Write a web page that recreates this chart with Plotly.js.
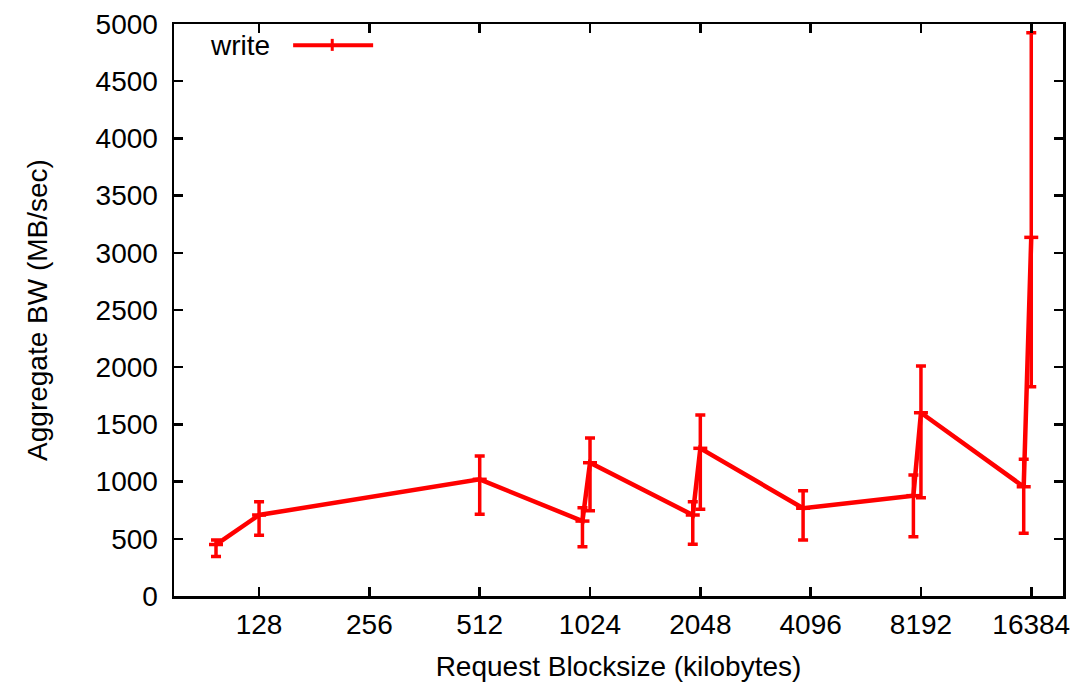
<!DOCTYPE html>
<html>
<head>
<meta charset="utf-8">
<script src="https://cdn.plot.ly/plotly-3.0.1.min.js"></script>
<style>html,body{margin:0;padding:0;background:#fff;}#chart{width:1074px;height:683px;}</style>
</head>
<body>
<div id="chart"></div>
<script>
// Request blocksize (kilobytes)
var blocksize = [97.65625, 128, 512, 976.5625, 1024, 1953.125, 2048, 3906.25, 7812.5, 8192, 15625, 16384];
// Aggregate write bandwidth (MB/sec)
var writeBW = [450, 708, 1020, 655, 1165, 708, 1291, 767, 877, 1602, 955, 3135];
var writeHigh = [490, 824, 1224, 772, 1381, 824, 1582, 920, 1058, 2010, 1195, 4924];
var writeLow = [345, 530, 714, 431, 746, 452, 758, 490, 518, 859, 548, 1830];
var xTicks = [128, 256, 512, 1024, 2048, 4096, 8192, 16384];
var xTickLabels = ["128", "256", "512", "1024", "2048", "4096", "8192", "16384"];
var yTicks = [0, 500, 1000, 1500, 2000, 2500, 3000, 3500, 4000, 4500, 5000];

var plus = writeHigh.map(function (h, i) { return h - writeBW[i]; });
var minus = writeBW.map(function (v, i) { return v - writeLow[i]; });

var trace = {
  x: blocksize,
  y: writeBW,
  type: 'scatter',
  mode: 'lines+markers',
  name: 'write',
  line: {color: '#ff0000', width: 4.5},
  marker: {symbol: 'line-ew', size: 10, color: '#ff0000', line: {color: '#ff0000', width: 3.5}},
  error_y: {type: 'data', symmetric: false, array: plus, arrayminus: minus,
            color: '#ff0000', thickness: 3.5, width: 5},
  showlegend: false
};

var font = {family: 'Liberation Sans, Arial, sans-serif', size: 28, color: '#000'};

var layout = {
  width: 1074, height: 683,
  margin: {l: 174, r: 11, t: 24, b: 87},
  paper_bgcolor: '#fff', plot_bgcolor: '#fff',
  font: font,
  showlegend: false,
  xaxis: {
    type: 'log',
    range: [Math.log10(75), Math.log10(20000)],
    tickvals: xTicks, ticktext: xTickLabels,
    ticks: 'inside', ticklen: 9, tickwidth: 2.5, tickcolor: '#000',
    showline: true, linewidth: 2.5, linecolor: '#000', mirror: 'ticks',
    showgrid: false, zeroline: false,
    ticklabelstandoff: 2,
    tickfont: font,
    title: {text: 'Request Blocksize (kilobytes)', font: font, standoff: 18}
  },
  yaxis: {
    range: [0, 5000],
    tickvals: yTicks,
    ticks: 'inside', ticklen: 9, tickwidth: 2.5, tickcolor: '#000',
    showline: true, linewidth: 2.5, linecolor: '#000', mirror: 'ticks',
    showgrid: false, zeroline: false,
    ticklabelstandoff: 8,
    tickfont: font,
    title: {text: 'Aggregate BW (MB/sec)', font: font, standoff: 40}
  },
  annotations: [{
    xref: 'paper', yref: 'paper', x: 0.110, y: 0.963,
    xanchor: 'right', yanchor: 'middle', showarrow: false,
    text: 'write', font: font
  }],
  shapes: [
    {type: 'line', xref: 'paper', yref: 'paper', x0: 0.134, x1: 0.224, y0: 0.963, y1: 0.963,
     line: {color: '#ff0000', width: 4}},
    {type: 'line', xref: 'paper', yref: 'paper', x0: 0.178, x1: 0.178, y0: 0.953, y1: 0.974,
     line: {color: '#ff0000', width: 3}}
  ]
};

Plotly.newPlot('chart', [trace], layout, {displayModeBar: false, staticPlot: true});
</script>
</body>
</html>
